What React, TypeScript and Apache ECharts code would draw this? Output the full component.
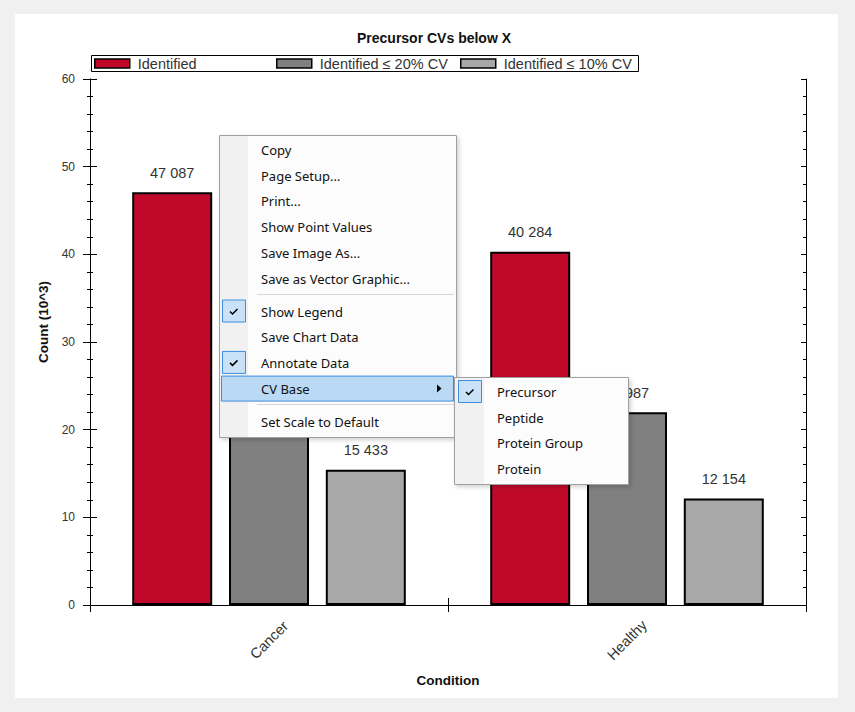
import React, { useEffect, useRef } from "react";
import * as echarts from "echarts";

// Conditions on the category axis
const conditions = ["Cancer", "Healthy"];

// Precursor counts per condition
const seriesNames = ["Identified", "Identified ≤ 20% CV", "Identified ≤ 10% CV"];
const identified = [47087, 40284];
const identifiedCv20 = [26731, 21987];
const identifiedCv10 = [15433, 12154];
const seriesCounts = [identified, identifiedCv20, identifiedCv10];

// Value axis, in thousands
const yMin = 0;
const yMax = 60;
const yInterval = 10;

// Context menu entries ("-" is a separator)
const menuItems = [
  "Copy",
  "Page Setup...",
  "Print...",
  "Show Point Values",
  "Save Image As...",
  "Save as Vector Graphic...",
  "-",
  "Show Legend",
  "Save Chart Data",
  "Annotate Data",
  "CV Base",
  "-",
  "Set Scale to Default",
];
const checkedItems = ["Show Legend", "Annotate Data"];
const cvBaseItems = ["Precursor", "Peptide", "Protein Group", "Protein"];
const checkedCvBase = "Precursor";

const seriesColors = ["#c0092a", "#808080", "#a8a8a8"];
const legendLefts = [94, 276, 460];
const chartFont = "Liberation Sans, Arial, sans-serif";
const menuFont = '13px "Noto Sans", "Open Sans", sans-serif';

const formatCount = (n: number) =>
  String(n).replace(/\B(?=(\d{3})+(?!\d))/g, " ");

// Main menu area; a value label lying beneath it is not drawn
const menuBox = { x: 219, y: 135, w: 237, h: 302 };

function checkMark(cx: number, cy: number, z: number) {
  return {
    type: "polyline",
    z,
    shape: { points: [[cx - 4, cy], [cx - 1.5, cy + 2.5], [cx + 3.5, cy - 2.5]] },
    style: { stroke: "#000", lineWidth: 1.5, fill: null },
  };
}

function buildMenu() {
  const els: any[] = [];
  const { x: mx, y: my, w: mw, h: mh } = menuBox;
  els.push({
    type: "rect", z: 100,
    shape: { x: mx + 0.5, y: my + 0.5, width: mw, height: mh },
    style: { fill: "#fcfcfc", stroke: "#a0a0a0", lineWidth: 1, shadowBlur: 4, shadowOffsetX: 2, shadowOffsetY: 2, shadowColor: "rgba(0,0,0,0.18)" },
  });
  els.push({
    type: "rect", z: 101,
    shape: { x: mx + 1, y: my + 1, width: 28, height: mh - 1 },
    style: { fill: "#f1f1f1" },
  });
  let row = 0;
  let seps = 0;
  const rowH = 25.7, sepH = 7.3, y0 = 150;
  menuItems.forEach((label) => {
    if (label === "-") {
      const sy = Math.round(y0 + row * rowH + seps * sepH - rowH / 2 + 3) + 0.5;
      els.push({
        type: "line", z: 102,
        shape: { x1: 257, y1: sy, x2: 454, y2: sy },
        style: { stroke: "#d7d7d7", lineWidth: 1 },
      });
      seps += 1;
      return;
    }
    const cy = y0 + row * rowH + seps * sepH;
    if (label === "CV Base") {
      els.push({
        type: "rect", z: 102,
        shape: { x: 221.5, y: cy - 12.5, width: 232, height: 25 },
        style: { fill: "#b9d9f4", stroke: "#3c8ddd", lineWidth: 1 },
      });
      els.push({
        type: "polygon", z: 103,
        shape: { points: [[437, cy - 4], [441.5, cy], [437, cy + 4]] },
        style: { fill: "#000" },
      });
    }
    if (checkedItems.indexOf(label) >= 0) {
      els.push({
        type: "rect", z: 102,
        shape: { x: 222.5, y: cy - 11.5, width: 23, height: 22 },
        style: { fill: "#c9e2f7", stroke: "#3c8ddd", lineWidth: 1 },
      });
      els.push(checkMark(234, cy, 103));
    }
    els.push({
      type: "text", z: 104, x: 261, y: cy,
      style: { text: label, font: menuFont, fill: "#111", verticalAlign: "middle" },
    });
    row += 1;
  });

  // CV Base submenu
  const sx = 454, sy = 377, sw = 174, sh = 107;
  els.push({
    type: "rect", z: 110,
    shape: { x: sx + 0.5, y: sy + 0.5, width: sw, height: sh },
    style: { fill: "#fcfcfc", stroke: "#a0a0a0", lineWidth: 1, shadowBlur: 4, shadowOffsetX: 2, shadowOffsetY: 2, shadowColor: "rgba(0,0,0,0.18)" },
  });
  els.push({
    type: "rect", z: 111,
    shape: { x: sx + 1, y: sy + 1, width: 29, height: sh - 1 },
    style: { fill: "#f1f1f1" },
  });
  cvBaseItems.forEach((label, i) => {
    const cy = 392 + i * 25.6;
    if (label === checkedCvBase) {
      els.push({
        type: "rect", z: 112,
        shape: { x: 458.5, y: cy - 11.5, width: 23, height: 22 },
        style: { fill: "#c9e2f7", stroke: "#3c8ddd", lineWidth: 1 },
      });
      els.push(checkMark(470, cy, 113));
    }
    els.push({
      type: "text", z: 114, x: 497, y: cy,
      style: { text: label, font: menuFont, fill: "#111", verticalAlign: "middle" },
    });
  });
  return els;
}

export default function App() {
  const ref = useRef<HTMLDivElement>(null);

  useEffect(() => {
    if (!ref.current) return;
    const chart = echarts.init(ref.current, null, { renderer: "svg" });

    const valueAxisBase = {
      type: "value",
      min: yMin,
      max: yMax,
      interval: yInterval,
      splitLine: { show: false },
      axisLine: { show: true, lineStyle: { color: "#000", width: 1 } },
    };

    const option: any = {
      animation: false,
      backgroundColor: "#f0f0f0",
      title: {
        text: "Precursor CVs below X",
        left: 434,
        top: 31,
        padding: 0,
        textAlign: "center",
        textStyle: { fontFamily: chartFont, fontSize: 14, fontWeight: "bold", color: "#111" },
      },
      legend: seriesNames.map((name, i) => ({
        data: [name],
        left: legendLefts[i],
        top: 56,
        padding: 0,
        itemWidth: 35,
        itemHeight: 9,
        icon: "rect",
        selectedMode: false,
        itemStyle: { borderWidth: 1.5, borderColor: "#000" },
        textStyle: { fontFamily: chartFont, fontSize: 14.5, color: "#333", padding: [0, 0, 0, 3] },
      })),
      grid: { left: 90, right: 49, top: 79, bottom: 107, containLabel: false },
      xAxis: [
        {
          type: "category",
          data: conditions,
          position: "bottom",
          axisLine: { show: true, lineStyle: { color: "#000" } },
          axisTick: { show: true, inside: false, length: 7, lineStyle: { color: "#000" } },
          axisLabel: {
            rotate: 45,
            align: "center",
            verticalAlign: "middle",
            margin: 35,
            fontFamily: chartFont,
            fontSize: 14.5,
            color: "#333",
          },
          name: "Condition",
          nameLocation: "middle",
          nameGap: 68,
          nameTextStyle: { fontFamily: chartFont, fontSize: 13.5, fontWeight: "bold", color: "#111" },
        },
        {
          type: "category",
          data: conditions,
          position: "bottom",
          axisLine: { show: false },
          axisTick: { show: true, inside: true, length: 7, lineStyle: { color: "#000" } },
          axisLabel: { show: false },
        },
        {
          type: "category",
          data: conditions,
          position: "top",
          axisLine: { show: true, lineStyle: { color: "#000" } },
          axisTick: { show: false },
          axisLabel: { show: false },
        },
      ],
      yAxis: [
        {
          ...valueAxisBase,
          position: "left",
          axisTick: { show: true, inside: false, length: 7, lineStyle: { color: "#000" } },
          minorTick: { show: true, splitNumber: 5, length: 3, lineStyle: { color: "#000" } },
          axisLabel: { margin: 15, fontFamily: chartFont, fontSize: 12, color: "#333" },
          name: "Count (10^3)",
          nameLocation: "middle",
          nameGap: 38,
          nameTextStyle: {
            fontFamily: chartFont,
            fontSize: 13.5,
            fontWeight: "bold",
            color: "#111",
            padding: [0, 0, 0, 40],
          },
        },
        {
          ...valueAxisBase,
          position: "left",
          axisTick: { show: true, inside: true, length: 7, lineStyle: { color: "#000" } },
          minorTick: { show: true, splitNumber: 5, length: 3, lineStyle: { color: "#000" } },
          axisLabel: { show: false },
        },
        {
          ...valueAxisBase,
          position: "right",
          axisTick: { show: true, inside: true, length: 5, lineStyle: { color: "#000" } },
          minorTick: { show: true, splitNumber: 5, length: 3, lineStyle: { color: "#000" } },
          axisLabel: { show: false },
        },
      ],
      series: seriesNames.map((name, i) => ({
        type: "bar",
        name,
        xAxisIndex: 0,
        yAxisIndex: 0,
        // the Cancer "≤ 20% CV" value label sits under the open menu
        data: seriesCounts[i].map((c, j) =>
          i === 1 && j === 0 ? { value: c / 1000, label: { show: false } } : c / 1000
        ),
        barWidth: 80,
        barGap: "21%",
        itemStyle: { color: seriesColors[i], borderColor: "#000", borderWidth: 2 },
        label: {
          show: true,
          position: "top",
          distance: 12,
          fontFamily: chartFont,
          fontSize: 14.5,
          color: "#333",
          formatter: (p: any) => formatCount(seriesCounts[i][p.dataIndex]),
        },
      })),
      graphic: [
        {
          type: "rect",
          z: -100,
          shape: { x: 15, y: 14, width: 823, height: 684 },
          style: { fill: "#ffffff" },
        },
        {
          type: "rect",
          z: 0,
          shape: { x: 91.5, y: 55.5, width: 547, height: 16 },
          style: { fill: "#ffffff", stroke: "#000", lineWidth: 1 },
        },
        ...buildMenu(),
      ],
    };

    chart.setOption(option);
    return () => chart.dispose();
  }, []);

  return (
    <div
      ref={ref}
      style={{ position: "fixed", left: 0, top: 0, width: 855, height: 712 }}
    />
  );
}
